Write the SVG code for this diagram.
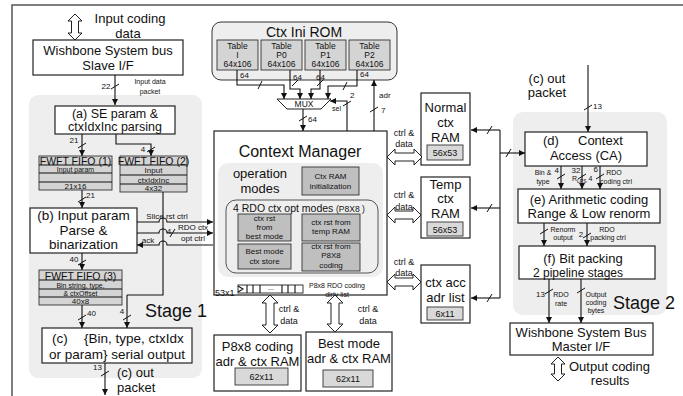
<svg xmlns="http://www.w3.org/2000/svg" width="683" height="396" viewBox="0 0 683 396">
<defs>
<marker id="ah" viewBox="0 0 10 10" refX="10" refY="5" markerWidth="6" markerHeight="6" markerUnits="userSpaceOnUse" orient="auto"><path d="M0,0 L10,5 L0,10 z" fill="#111"/></marker>
<style>
text{font-family:"Liberation Sans",Arial,sans-serif;fill:#111;text-anchor:middle}
.s{text-anchor:start}
.e{text-anchor:end}
.f13{font-size:13px}
.f14{font-size:13.5px}
.f9{font-size:9px}
.f8{font-size:8px}
.f7{font-size:7px}
.box{fill:#fff;stroke:#222;stroke-width:1.2}
.gb{fill:#d4d4d4;stroke:#333;stroke-width:0.9}
.db{fill:#bfbfbf;stroke:#333;stroke-width:0.9}
.bg{fill:#eeeeee;stroke:none}
.ln{fill:none;stroke:#111;stroke-width:1.1}
.ar{fill:none;stroke:#111;stroke-width:1.1;marker-end:url(#ah)}
.sl{stroke:#111;stroke-width:1}
.ha{fill:#fff;stroke:#222;stroke-width:1}
</style>
</defs>
<rect width="683" height="396" fill="#fff"/>
<path d="M12,396 V5 H683" fill="none" stroke="#555" stroke-width="1.5"/>

<g id="stage1-bg"><rect class="bg" x="29" y="95" width="173" height="283" rx="9"/><text class="s" x="145" y="317" style="font-size:18px">Stage 1</text></g>
<g id="stage2-bg"><rect class="bg" x="513" y="112" width="154" height="203" rx="10"/><text class="s" x="613" y="309" style="font-size:18px">Stage 2</text></g>

<g id="input-io">
<path class="ha" d="M75,14 L82,21 L78.5,21 L78.5,33 L82,33 L75,40 L68,33 L71.5,33 L71.5,21 L68,21 Z"/>
<text class="f13" x="130" y="23">Input coding</text>
<text class="f13" x="128" y="38">data</text>
</g>
<g id="wb-slave"><rect class="box" x="33" y="40" width="150" height="35"/>
<text class="f13" x="108" y="55">Wishbone System bus</text><text class="f13" x="108" y="70">Slave I/F</text></g>

<g id="node-a"><rect class="box" x="55" y="106" width="120" height="28"/>
<text x="115" y="118" style="font-size:12.5px">(a)  SE param &amp;</text><text x="115" y="131" style="font-size:12.5px">ctxIdxInc parsing</text></g>

<g id="fifo1"><rect class="gb" x="39" y="156" width="73" height="34"/>
<path class="ln" d="M39,165H112M39,173H112M39,182H112" stroke-width="0.8"/>
<text x="75.5" y="164.5" style="font-size:10.5px">FWFT FIFO (1)</text>
<text class="f7" x="75.5" y="171.5">Input param</text>
<text class="f8" x="75.5" y="189">21x16</text></g>

<g id="fifo2"><rect class="gb" x="120" y="156" width="67" height="36"/>
<path class="ln" d="M120,165H187M120,175H187M120,184H187" stroke-width="0.8"/>
<text x="153.5" y="164.5" style="font-size:10.5px">FWFT FIFO (2)</text>
<text class="f8" x="153.5" y="173">Input</text>
<text class="f8" x="153.5" y="182.5">ctxIdxInc</text>
<text class="f8" x="153.5" y="191">4x32</text></g>

<g id="node-b"><rect class="box" x="30" y="208" width="107" height="45"/>
<text class="f14" x="83.5" y="220">(b) Input param</text><text class="f14" x="83.5" y="235">Parse &amp;</text><text class="f14" x="83.5" y="249">binarization</text></g>

<g id="fifo3"><rect class="gb" x="39" y="270" width="83" height="35"/>
<path class="ln" d="M39,280H122M39,289H122M39,297H122" stroke-width="0.8"/>
<text x="80.5" y="279.5" style="font-size:10.5px">FWFT FIFO (3)</text>
<text class="f7" x="80.5" y="287.5">Bin string, type,</text>
<text class="f7" x="80.5" y="296">&amp; ctxOffset</text>
<text class="f8" x="80.5" y="304">40x8</text></g>

<g id="node-c"><rect class="box" x="42" y="328" width="150" height="35"/>
<text class="f14 s" x="52" y="343">(c)</text><text class="f14 s" x="84" y="343">{Bin, type, ctxIdx</text>
<text class="f14" x="117" y="359">or param} serial output</text></g>

<g id="ctx-ini-rom"><rect x="212" y="22" width="185" height="58" rx="9" fill="#eeeeee" stroke="#333" stroke-width="1"/>
<text x="304" y="37" style="font-size:14px">Ctx Ini ROM</text>
<rect class="gb" x="217" y="40" width="41" height="30"/><rect class="gb" x="261" y="40" width="41" height="30"/><rect class="gb" x="305" y="40" width="41" height="30"/><rect class="gb" x="349" y="40" width="41" height="30"/>
<g style="font-size:8.5px"><text x="237.5" y="49">Table</text><text x="237.5" y="58">I</text><text x="237.5" y="67">64x106</text>
<text x="281.5" y="49">Table</text><text x="281.5" y="58">P0</text><text x="281.5" y="67">64x106</text>
<text x="325.5" y="49">Table</text><text x="325.5" y="58">P1</text><text x="325.5" y="67">64x106</text>
<text x="369.5" y="49">Table</text><text x="369.5" y="58">P2</text><text x="369.5" y="67">64x106</text></g>
</g>

<g id="mux"><polygon points="277,99 331,99 321,109 287,109" fill="#fff" stroke="#222" stroke-width="1"/><text x="304" y="107" style="font-size:8.5px">MUX</text></g>

<g id="context-manager"><rect class="box" x="214" y="131" width="173" height="164"/>
<text x="300" y="157" style="font-size:16px">Context Manager</text>
<rect class="bg" x="218" y="163" width="165" height="114" rx="10"/>
<text class="f13" x="260" y="178">operation</text><text class="f13" x="260" y="193">modes</text>
<rect class="db" x="302" y="167" width="57" height="28"/>
<text class="f8" x="330.5" y="179">Ctx RAM</text><text class="f8" x="330.5" y="189">initialization</text>
<rect x="226" y="200" width="152" height="73" rx="10" fill="#eeeeee" stroke="#555" stroke-width="1"/>
<text class="s" x="233" y="212" style="font-size:10.5px">4 RDO ctx opt modes</text><text class="s" x="336" y="212" style="font-size:8.5px">(P8X8 )</text>
<rect class="db" x="238" y="214" width="53" height="27"/>
<text class="f8" x="264.5" y="221">ctx rst</text><text class="f8" x="264.5" y="229.5">from</text><text class="f8" x="264.5" y="238.5">best mode</text>
<rect class="db" x="302" y="214" width="58" height="27"/>
<text class="f8" x="331" y="225">ctx rst from</text><text class="f8" x="331" y="234">temp RAM</text>
<rect class="db" x="238" y="244" width="53" height="25"/>
<text class="f8" x="264.5" y="254">Best mode</text><text class="f8" x="264.5" y="264">ctx store</text>
<rect class="db" x="302" y="243" width="58" height="28"/>
<text class="f8" x="331" y="249">ctx rst from</text><text class="f8" x="331" y="258">P8X8</text><text class="f8" x="331" y="268">coding</text>
<text class="s" x="215" y="296" style="font-size:9px">53x1</text>
<rect x="238" y="285" width="65" height="8" fill="#fff" stroke="#222" stroke-width="0.9"/>
<path class="ln" d="M247,285V293M253,285V293M260,285V293M282,285V293M288,285V293M295,285V293M238,286L243,289L238,292" stroke-width="0.8"/>
<text class="f7" x="271" y="290">...</text>
<text class="f7" x="337" y="288">P8x8 RDO coding</text><text class="f7" x="337" y="297">dirty list</text>
</g>

<g id="p8x8-ram"><rect class="box" x="214" y="335" width="87" height="56"/>
<text class="f13" x="257.5" y="351">P8x8  coding</text><text class="f13" x="257.5" y="366">adr &amp; ctx RAM</text>
<rect x="235" y="368" width="53" height="17" fill="#d9d9d9" stroke="#333" stroke-width="0.9"/><text class="f9" x="261.5" y="380">62x11</text></g>

<g id="best-mode-ram"><rect class="box" x="306" y="332" width="86" height="59"/>
<text class="f13" x="349" y="348">Best mode</text><text class="f13" x="349" y="363">adr &amp; ctx RAM</text>
<rect x="323" y="370" width="50" height="17" fill="#d9d9d9" stroke="#333" stroke-width="0.9"/><text class="f9" x="348" y="382">62x11</text></g>

<g id="normal-ctx-ram"><rect class="box" x="421" y="93" width="49" height="72"/>
<text class="f13" x="445.5" y="112">Normal</text><text class="f13" x="445.5" y="127">ctx</text><text class="f13" x="445.5" y="142">RAM</text>
<rect x="427" y="145" width="36" height="15" fill="#d9d9d9" stroke="#333" stroke-width="0.9"/><text class="f9" x="445" y="156">56x53</text></g>

<g id="temp-ctx-ram"><rect class="box" x="421" y="177" width="49" height="61"/>
<text class="f13" x="445.5" y="189">Temp</text><text class="f13" x="445.5" y="203">ctx</text><text class="f13" x="445.5" y="218">RAM</text>
<rect x="427" y="222" width="36" height="14" fill="#d9d9d9" stroke="#333" stroke-width="0.9"/><text class="f9" x="445" y="232.5">56x53</text></g>

<g id="ctx-acc-adr-list"><rect class="box" x="421" y="265" width="49" height="58"/>
<text class="f13" x="445.5" y="287">ctx acc</text><text class="f13" x="445.5" y="302">adr list</text>
<rect x="427" y="307" width="36" height="13" fill="#d9d9d9" stroke="#333" stroke-width="0.9"/><text class="f9" x="445" y="317">6x11</text></g>

<g id="node-d"><rect class="box" x="525" y="132" width="122" height="34"/>
<text class="f13 s" x="543" y="145">(d)</text><text class="f13 s" x="578" y="145">Context</text>
<text class="f13" x="586" y="160">Access (CA)</text></g>

<g id="node-e"><rect class="box" x="518" y="189" width="142" height="34"/>
<text class="f13" x="589" y="204">(e)   Arithmetic coding</text><text class="f13" x="589" y="218">Range &amp; Low renorm</text></g>

<g id="node-f"><rect class="box" x="519" y="246" width="136" height="33"/>
<text class="f13" x="583" y="263">(f)   Bit packing</text><text x="578" y="277" style="font-size:12px">2 pipeline stages</text></g>

<g id="wb-master"><rect class="box" x="510" y="323" width="143" height="32"/>
<text class="f13" x="581" y="337">Wishbone System Bus</text><text class="f13" x="581" y="351">Master I/F</text></g>

<g id="output-io">
<path class="ha" d="M558,357 L565,364 L561.5,364 L561.5,374 L565,374 L558,381 L551,374 L554.5,374 L554.5,364 L551,364 Z"/>
<text class="f13 s" x="569" y="371">Output coding</text><text class="f13" x="610" y="385">results</text>
</g>

<g id="connectors">
<path class="ar" d="M115,75V105"/><line class="sl" x1="111" y1="89" x2="119" y2="84"/>
<text class="f8" x="106" y="89">22</text>
<text class="f7" x="150" y="84">Input data</text><text class="f7" x="150" y="94">packet</text>

<path class="ar" d="M82,134V156"/><line class="sl" x1="78" y1="148" x2="86" y2="143"/><text class="f8" x="74" y="143">21</text>
<path class="ar" d="M116,134V144H151V156"/><line class="sl" x1="147" y1="152" x2="155" y2="147"/><text class="f8" x="143" y="152">4</text>

<path class="ar" d="M82,190V208"/><line class="sl" x1="78" y1="202" x2="86" y2="197"/><text class="f8 s" x="86" y="198">21</text>

<path class="ar" d="M137,222H159a4,4 0 0 1 8,0H213"/>
<path class="ar" d="M137,233H159a4,4 0 0 1 8,0H213"/><line class="sl" x1="170" y1="237" x2="175" y2="229"/>
<path class="ar" d="M213,245H167a4,4 0 0 0 -8,0H137"/>
<text class="f8" x="167" y="219">Slice rst ctrl</text>
<text class="f8" x="169" y="234">4</text>
<text class="f8" x="193" y="230">RDO ctx</text>
<text class="f8" x="193" y="241">opt ctrl</text>
<text class="f8" x="148" y="243">ack</text>

<path class="ln" d="M163,192V295H127"/><path class="ar" d="M127,295V328"/><line class="sl" x1="123" y1="320" x2="131" y2="315"/><text class="f8" x="122" y="314">4</text>

<path class="ar" d="M82,253V270"/><line class="sl" x1="78" y1="265" x2="86" y2="260"/><text class="f8" x="74" y="262">40</text>
<path class="ar" d="M82,305V328"/><line class="sl" x1="78" y1="320" x2="86" y2="315"/><text class="f8 s" x="87" y="316">40</text>

<path class="ar" d="M105,363V395"/><line class="sl" x1="101" y1="376" x2="109" y2="371"/><text class="f8 e" x="102" y="370">13</text>
<text class="f13 s" x="117" y="377">(c) out</text><text class="f13 s" x="117" y="392">packet</text>

<path class="ar" d="M237,70V85H284V99"/><line class="sl" x1="258" y1="89" x2="262" y2="81"/><text class="f8 s" x="240" y="78">64</text>
<path class="ar" d="M290,70V89H300V99"/><line class="sl" x1="292" y1="86" x2="298" y2="80"/><text class="f8 s" x="293" y="80">64</text>
<path class="ar" d="M320,70V89H311V99"/><line class="sl" x1="317" y1="86" x2="323" y2="80"/><text class="f8 s" x="316" y="80">64</text>
<path class="ar" d="M357,70V86H328V99"/><line class="sl" x1="343" y1="90" x2="347" y2="82"/><text class="f8 s" x="360" y="77">64</text>

<path class="ar" d="M303,109V131"/><line class="sl" x1="299" y1="121" x2="307" y2="116"/><text class="f8 s" x="308" y="122">64</text>
<path class="ar" d="M347,131V101H330"/><line class="sl" x1="343" y1="106" x2="351" y2="101"/><text class="f8 s" x="350" y="98">2</text><text class="f7 s" x="332" y="111">sel</text>
<path class="ar" d="M374,131V80"/><line class="sl" x1="370" y1="112" x2="378" y2="107"/><text class="f8 s" x="379" y="98">adr</text><text class="f8 s" x="381" y="113">7</text>

<path class="ha" d="M387,157 L395,149 L395,153 L414,153 L414,149 L422,157 L414,165 L414,161 L395,161 L395,165 Z"/>
<path class="ha" d="M387,215 L395,207 L395,211 L413,211 L413,207 L421,215 L413,223 L413,219 L395,219 L395,223 Z"/>
<path class="ha" d="M387,282 L395,274 L395,278 L413,278 L413,274 L421,282 L413,290 L413,286 L395,286 L395,290 Z"/>
<text class="f9" x="404" y="136">ctrl &amp;</text><text class="f9" x="404" y="147">data</text>
<text class="f9" x="404" y="198">ctrl &amp;</text><text class="f9" x="404" y="210">data</text>
<text class="f9" x="404" y="265">ctrl &amp;</text><text class="f9" x="404" y="276">data</text>

<path class="ha" d="M270,295 L278,303 L274,303 L274,325 L278,325 L270,333 L262,325 L266,325 L266,303 L262,303 Z"/>
<path class="ha" d="M335,295 L343,303 L339,303 L339,324 L343,324 L335,332 L327,324 L331,324 L331,303 L327,303 Z"/>
<text class="f9" x="289" y="312">ctrl &amp;</text><text class="f9" x="289" y="324">data</text>
<text class="f9" x="368" y="312">ctrl &amp;</text><text class="f9" x="368" y="324">data</text>

<path class="ln" d="M500,130V298"/>
<path class="ar" d="M500,130H471"/><line class="sl" x1="487" y1="134" x2="492" y2="126"/>
<path class="ar" d="M500,208H471"/><line class="sl" x1="487" y1="212" x2="492" y2="204"/>
<path class="ar" d="M500,298H471"/><line class="sl" x1="487" y1="302" x2="492" y2="294"/>
<path class="ar" d="M500,153H525"/><line class="sl" x1="506" y1="157" x2="511" y2="149"/>

<text class="f13" x="547" y="83">(c) out</text><text class="f13" x="547" y="97">packet</text>
<path class="ar" d="M588,65V132"/><line class="sl" x1="584" y1="110" x2="592" y2="105"/><text class="f8 s" x="593" y="109">13</text>

<path class="ar" d="M561,166V189"/><line class="sl" x1="557" y1="179" x2="565" y2="174"/>
<path class="ar" d="M582,166V189"/><line class="sl" x1="578" y1="179" x2="586" y2="174"/>
<path class="ar" d="M600,166V189"/><line class="sl" x1="596" y1="179" x2="604" y2="174"/>
<text class="f7" x="543" y="175">Bin &amp;</text><text class="f7" x="543" y="184">type</text>
<text class="f8 e" x="559" y="173">4</text>
<text class="f8" x="576" y="173">32</text>
<text class="f7 s" x="572" y="181">R<tspan style="font-size:5px" dy="1.5">LPS</tspan><tspan dy="-1.5"> 4</tspan></text>
<text class="f8 e" x="598" y="172">6</text>
<text class="f7" x="614" y="175">RDO</text><text class="f7" x="616" y="184">coding ctrl</text>

<path class="ar" d="M544,223V246"/><line class="sl" x1="540" y1="234" x2="548" y2="229"/>
<path class="ar" d="M587,223V246"/><line class="sl" x1="583" y1="238" x2="591" y2="233"/>
<text class="f7" x="563" y="232">Renorm</text><text class="f7" x="563" y="240">output</text>
<text class="f8" x="581" y="237">2</text>
<text class="f7" x="607" y="232">RDO</text><text class="f7" x="608" y="240">packing ctrl</text>

<path class="ar" d="M549,279V323"/><line class="sl" x1="545" y1="294" x2="553" y2="289"/>
<path class="ar" d="M581,279V323"/><line class="sl" x1="577" y1="293" x2="585" y2="288"/>
<text class="f8 e" x="545" y="297">13</text>
<text class="f7" x="561" y="297">RDO</text><text class="f7" x="561" y="306">rate</text>
<text class="f7" x="596" y="297">Output</text><text class="f7" x="596" y="305">coding</text><text class="f7" x="596" y="313">bytes</text>
</g>
</svg>
